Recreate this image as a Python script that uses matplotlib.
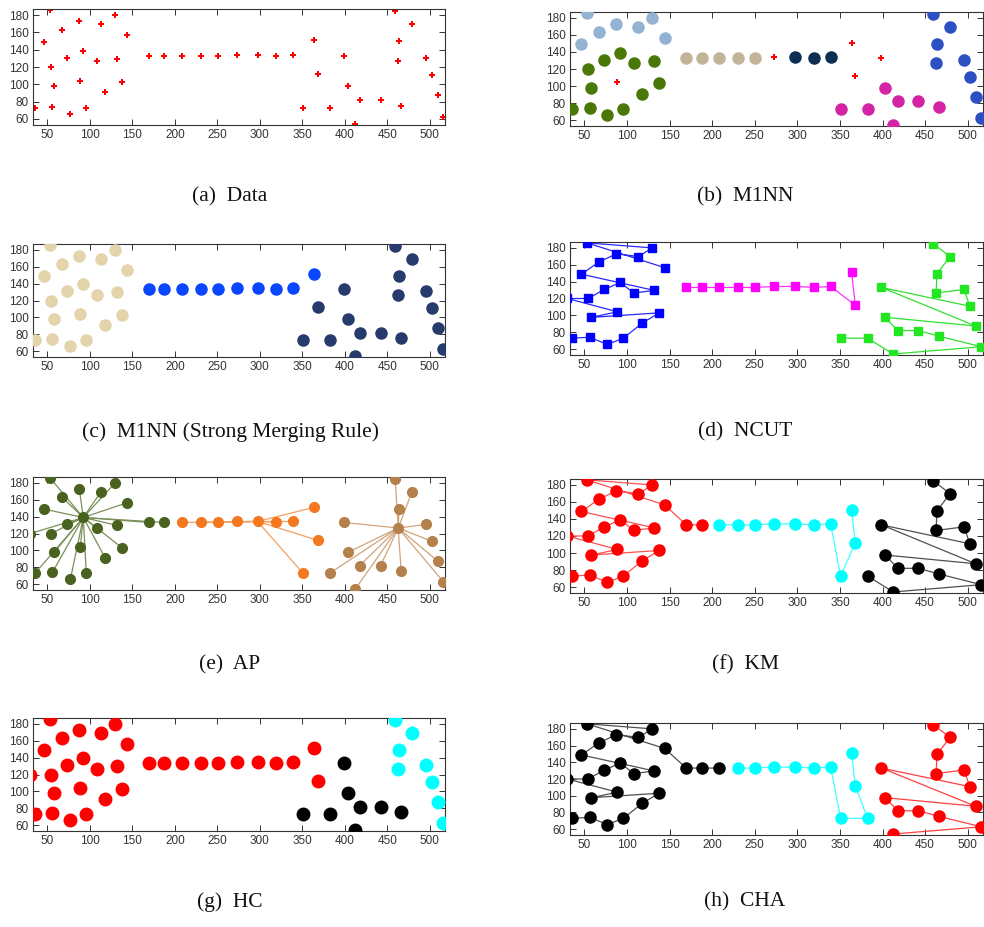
import matplotlib
matplotlib.use("Agg")
import matplotlib.pyplot as plt

# points, listed in the order of the data file (lines in d/f/h follow this order)
x_pts = [35.5, 55.9, 77.0, 95.7, 118.0, 137.9, 57.8, 88.7, 30.0, 54.3,
         73.4, 92.2, 107.8, 132.0, 46.5, 66.8, 87.5, 113.3, 129.7, 53.0,
         144.1, 169.5, 187.5, 208.2, 230.5, 250.4, 272.7, 297.3, 319.1, 339.0,
         350.8, 382.4, 368.0, 363.7, 412.5, 516.0, 466.4, 442.2, 417.6, 403.5,
         509.4, 398.8, 502.3, 496.0, 462.9, 464.0, 479.3, 459.4]
y_pts = [73.0, 74.0, 65.5, 73.0, 91.0, 103.0, 97.6, 104.2, 120.0, 120.0,
         130.8, 139.0, 126.5, 129.6, 148.8, 163.2, 173.0, 169.8, 180.0, 186.0,
         156.6, 133.1, 133.1, 133.1, 133.1, 133.1, 134.3, 134.3, 133.1, 134.3,
         73.0, 73.0, 112.0, 151.0, 54.2, 62.8, 75.3, 82.0, 82.0, 97.6,
         87.4, 133.1, 110.9, 130.8, 126.5, 149.5, 169.8, 185.0]

# cluster labels per method (0 = unassigned / noise)
lab_m1nn = [2, 2, 2, 2, 2, 2, 2, 0, 0, 2, 2, 2, 2, 2, 1, 1, 1, 1, 1, 1,
            1, 3, 3, 3, 3, 3, 0, 4, 4, 4, 5, 5, 0, 0, 5, 6, 5, 5, 5, 5,
            6, 0, 6, 6, 6, 6, 6, 6]
lab_strong = [1] * 8 + [0] + [1] * 12 + [2] * 9 + [3, 3, 3, 2] + [3] * 14
lab_ncut = [1] * 21 + [2] * 9 + [3, 3, 2, 2] + [3] * 14
lab_ap = [1] * 23 + [2] * 8 + [3] + [2, 2] + [3] * 14
ap_exemplars = {1: 11, 2: 27, 3: 44}
lab_km = [1] * 23 + [2] * 8 + [3] + [2, 2] + [3] * 14
lab_hc = [1] * 30 + [2, 2, 1, 1] + [2, 3, 2, 2, 2, 2, 3, 2, 3, 3, 3, 3, 3, 3]
lab_cha = [1] * 24 + [2] * 10 + [3] * 14

captions = ["(a)  Data", "(b)  M1NN", "(c)  M1NN (Strong Merging Rule)", "(d)  NCUT",
            "(e)  AP", "(f)  KM", "(g)  HC", "(h)  CHA"]

W, H = 984, 927
fig = plt.figure(figsize=(W / 100, H / 100), dpi=100)

# axes boxes in pixels: left, top, right, bottom
boxes = [(33, 9, 445, 125), (570, 12, 983, 126),
         (33, 244, 445, 357), (570, 242, 983, 355),
         (33, 477, 445, 590), (570, 479, 983, 593),
         (33, 718, 445, 831), (570, 723, 983, 835)]
cap_y = [197, 197, 432, 432, 665, 665, 902, 902]
cap_x = [230, 745] * 4


def make_ax(i):
    l, t, r, b = boxes[i]
    ax = fig.add_axes([l / W, 1 - b / H, (r - l) / W, (b - t) / H])
    ax.set_xlim(33, 518)
    ax.set_ylim(53, 187)
    ax.set_xticks(range(50, 501, 50))
    ax.set_yticks(range(60, 181, 20))
    ax.tick_params(direction="in", length=4, width=0.7, top=True, right=True,
                   labelsize=8.5, colors="#333333", pad=3)
    for lb in ax.get_xticklabels() + ax.get_yticklabels():
        lb.set_fontfamily("Liberation Sans")
    for s in ax.spines.values():
        s.set_linewidth(0.8)
        s.set_color("#333333")
    fig.text(cap_x[i] / W, 1 - cap_y[i] / H, captions[i], ha="center", va="center",
             fontsize=15.5, family="Liberation Serif", color="#111111")
    return ax


def scatter(ax, labels, colors, marker="o", ms=7, noise=True):
    for c, col in colors.items():
        xs = [x for x, l in zip(x_pts, labels) if l == c]
        ys = [y for y, l in zip(y_pts, labels) if l == c]
        ax.plot(xs, ys, ls="none", marker=marker, ms=ms, color=col, mec=col, zorder=3)
    if noise:
        xs = [x for x, l in zip(x_pts, labels) if l == 0]
        ys = [y for y, l in zip(y_pts, labels) if l == 0]
        ax.plot(xs, ys, ls="none", marker="P", ms=4, color="red", mew=0, zorder=3)


def chains(ax, labels, colors):
    # join consecutive members of each cluster in data order
    for c, col in colors.items():
        xs = [x for x, l in zip(x_pts, labels) if l == c]
        ys = [y for y, l in zip(y_pts, labels) if l == c]
        ax.plot(xs, ys, color=col, lw=0.9, zorder=2)


# (a) data
ax = make_ax(0)
ax.plot(x_pts, y_pts, ls="none", marker="P", ms=4, color="red", mew=0)

# (b) M1NN
ax = make_ax(1)
scatter(ax, lab_m1nn, {1: "#94b2d2", 2: "#4a7808", 3: "#c2b498", 4: "#0c2f52",
                       5: "#d424a6", 6: "#2c4fc2"}, ms=8)

# (c) M1NN strong merging
ax = make_ax(2)
scatter(ax, lab_strong, {1: "#e4d4ac", 2: "#0846ff", 3: "#263a6c"}, ms=8)

# (d) NCUT
ax = make_ax(3)
chains(ax, lab_ncut, {1: "#2828ff", 2: "#ff30ff", 3: "#30e030"})
scatter(ax, lab_ncut, {1: "#0000ff", 2: "#ff00ff", 3: "#22e622"}, marker="s", ms=6, noise=False)

# (e) AP
ax = make_ax(4)
ap_cols = {1: "#4a6220", 2: "#f47820", 3: "#b4804c"}
ap_lines = {1: "#7a9058", 2: "#f4a060", 3: "#d0a478"}
for i, (x, y, l) in enumerate(zip(x_pts, y_pts, lab_ap)):
    e = ap_exemplars[l]
    ax.plot([x, x_pts[e]], [y, y_pts[e]], color=ap_lines[l], lw=0.9, zorder=2)
scatter(ax, lab_ap, ap_cols, ms=7, noise=False)

# (f) KM
ax = make_ax(5)
chains(ax, lab_km, {1: "#ff5050", 2: "#40ffff", 3: "#505050"})
scatter(ax, lab_km, {1: "#ff0000", 2: "#00ffff", 3: "#000000"}, ms=8, noise=False)

# (g) HC
ax = make_ax(6)
scatter(ax, lab_hc, {1: "#ff0000", 2: "#000000", 3: "#00ffff"}, ms=9, noise=False)

# (h) CHA
ax = make_ax(7)
chains(ax, lab_cha, {1: "#505050", 2: "#40ffff", 3: "#ff4040"})
scatter(ax, lab_cha, {1: "#000000", 2: "#00ffff", 3: "#ff0000"}, ms=8, noise=False)

fig.savefig("out.png", dpi=100)
